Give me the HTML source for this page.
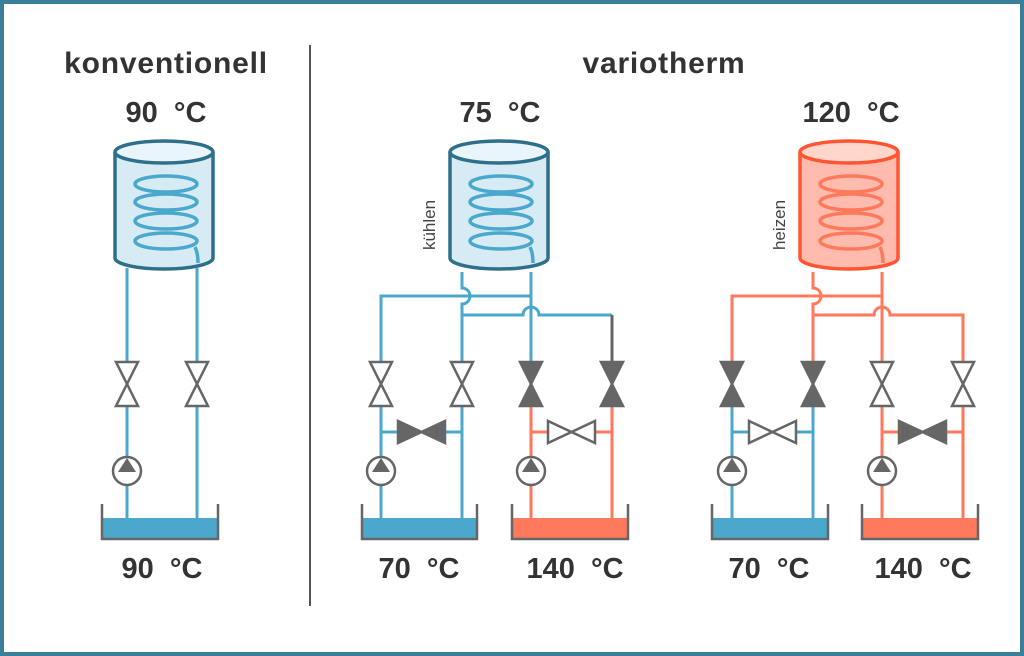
<!DOCTYPE html>
<html><head><meta charset="utf-8"><style>
html,body{margin:0;padding:0;background:#fff;}
svg{display:block;}
text{font-family:"Liberation Sans",sans-serif;}
</style></head><body>
<svg width="1024" height="656" viewBox="0 0 1024 656" xmlns="http://www.w3.org/2000/svg">
<rect x="2" y="2" width="1020" height="652" fill="#fff" stroke="#3a7f9a" stroke-width="4"/>
<line x1="310" y1="45" x2="310" y2="606" stroke="#555" stroke-width="2"/>

<g font-weight="bold" fill="#333" font-size="29" text-anchor="middle">
<text x="166" y="73" font-size="30" letter-spacing="0.8">konventionell</text>
<text x="664" y="73" font-size="30" letter-spacing="0.8">variotherm</text>
<text x="166" y="122">90&#160;&#160;°C</text>
<text x="500" y="122">75&#160;&#160;°C</text>
<text x="851" y="122">120&#160;&#160;°C</text>
<text x="162" y="578">90&#160;&#160;°C</text>
<text x="419" y="578">70&#160;&#160;°C</text>
<text x="575" y="578">140&#160;&#160;°C</text>
<text x="769" y="578">70&#160;&#160;°C</text>
<text x="923" y="578">140&#160;&#160;°C</text>
</g>
<g font-size="17" fill="#444" text-anchor="middle">
<text transform="translate(435,225) rotate(-90)">kühlen</text>
<text transform="translate(785,225) rotate(-90)">heizen</text>
</g>

<!-- tanks -->
<g stroke-width="3.5">
<g transform="translate(115,0)" stroke="#2e6f8a">
<path d="M0 152 V258 A49 11 0 0 0 98 258 V152" fill="#d6ebf4"/>
<ellipse cx="49" cy="152" rx="49" ry="11" fill="#e9f5fa"/>
</g>
<g transform="translate(450,0)" stroke="#2e6f8a">
<path d="M0 152 V258 A49 11 0 0 0 98 258 V152" fill="#d6ebf4"/>
<ellipse cx="49" cy="152" rx="49" ry="11" fill="#e9f5fa"/>
</g>
<g transform="translate(800,0)" stroke="#ff5533">
<path d="M0 152 V258 A49 11 0 0 0 98 258 V152" fill="#ffbcae"/>
<ellipse cx="49" cy="152" rx="49" ry="11" fill="#ffd6cc"/>
</g>
</g>
<!-- coils -->
<g fill="none" stroke-width="3.5">
<g stroke="#4aa8cc" transform="translate(115,0)">
<ellipse cx="51" cy="184" rx="31" ry="8"/><ellipse cx="51" cy="202" rx="31" ry="8"/><ellipse cx="51" cy="221" rx="31" ry="8"/><ellipse cx="51" cy="241" rx="31" ry="8"/><path d="M80 247 Q83 253 83 263"/>
</g>
<g stroke="#4aa8cc" transform="translate(450,0)">
<ellipse cx="51" cy="184" rx="31" ry="8"/><ellipse cx="51" cy="202" rx="31" ry="8"/><ellipse cx="51" cy="221" rx="31" ry="8"/><ellipse cx="51" cy="241" rx="31" ry="8"/><path d="M80 247 Q83 253 83 263"/>
</g>
<g stroke="#ff7a5c" transform="translate(800,0)">
<ellipse cx="51" cy="184" rx="31" ry="8"/><ellipse cx="51" cy="202" rx="31" ry="8"/><ellipse cx="51" cy="221" rx="31" ry="8"/><ellipse cx="51" cy="241" rx="31" ry="8"/><path d="M80 247 Q83 253 83 263"/>
</g>
</g>

<!-- pipes -->
<g fill="none" stroke-width="3">
<path d="M127 268 V520 M197 268 V520" stroke="#4aa8cc"/>
<g stroke="#4aa8cc">
<path d="M462 272 V288 A8 8 0 0 1 462 304 V520"/>
<path d="M531 272 V384"/>
<path d="M381 520 V296 H531"/>
<path d="M462 315 H523 A8 8 0 0 1 539 315 H612"/>
<path d="M381 432 H398 M445 432 H462"/>
</g>
<path d="M612 315 V384" stroke="#666"/>
<g stroke="#ff7a5c">
<path d="M531 384 V520 M612 384 V520"/>
<path d="M531 432 H548 M595 432 H612"/>
</g>
<g stroke="#ff7a5c">
<path d="M813 272 V288 A8 8 0 0 1 813 304 V384"/>
<path d="M882 272 V520"/>
<path d="M732 384 V296 H882"/>
<path d="M813 315 H874 A8 8 0 0 1 890 315 H963 V520"/>
<path d="M882 432 H899 M946 432 H963"/>
</g>
<g stroke="#4aa8cc">
<path d="M732 384 V520 M813 384 V520"/>
<path d="M732 432 H749 M796 432 H813"/>
</g>
</g>

<!-- basins -->
<g>
<rect x="103" y="518" width="114" height="20" fill="#4aa8cc"/>
<rect x="363" y="518" width="113" height="20" fill="#4aa8cc"/>
<rect x="513" y="518" width="114" height="20" fill="#ff7a5c"/>
<rect x="713" y="518" width="114" height="20" fill="#4aa8cc"/>
<rect x="863" y="518" width="114" height="20" fill="#ff7a5c"/>
<g fill="none" stroke="#666" stroke-width="2.5">
<path d="M102 504 V539 H218 V504"/>
<path d="M362 504 V539 H477 V504"/>
<path d="M512 504 V539 H628 V504"/>
<path d="M712 504 V539 H828 V504"/>
<path d="M862 504 V539 H978 V504"/>
</g>
</g>

<g stroke="#666" stroke-width="2.5" stroke-linejoin="miter">
<g fill="#fff">
<path d="M116 362 H138 L116 406 H138 Z" />
<path d="M186 362 H208 L186 406 H208 Z" />
<path d="M370 362 H392 L370 406 H392 Z" />
<path d="M451 362 H473 L451 406 H473 Z" />
<path d="M871 362 H893 L871 406 H893 Z" />
<path d="M952 362 H974 L952 406 H974 Z" />
</g>
<g fill="#666">
<path d="M520 362 H542 L520 406 H542 Z" />
<path d="M601 362 H623 L601 406 H623 Z" />
<path d="M721 362 H743 L721 406 H743 Z" />
<path d="M802 362 H824 L802 406 H824 Z" />
</g>
<path d="M398 421 V443 L445 421 V443 Z" fill="#666"/>
<path d="M548 421 V443 L595 421 V443 Z" fill="#fff"/>
<path d="M749 421 V443 L796 421 V443 Z" fill="#fff"/>
<path d="M899 421 V443 L946 421 V443 Z" fill="#666"/>
</g>

<g stroke="#666" stroke-width="2.5" fill="#fff">
<circle cx="127" cy="471" r="14"/>
<circle cx="381" cy="471" r="14"/>
<circle cx="531" cy="471" r="14"/>
<circle cx="732" cy="471" r="14"/>
<circle cx="882" cy="471" r="14"/>
</g>
<g fill="#666">
<path d="M127 458 L136 472 H118 Z"/>
<path d="M381 458 L390 472 H372 Z"/>
<path d="M531 458 L540 472 H522 Z"/>
<path d="M732 458 L741 472 H723 Z"/>
<path d="M882 458 L891 472 H873 Z"/>
</g>
</svg>
</body></html>
